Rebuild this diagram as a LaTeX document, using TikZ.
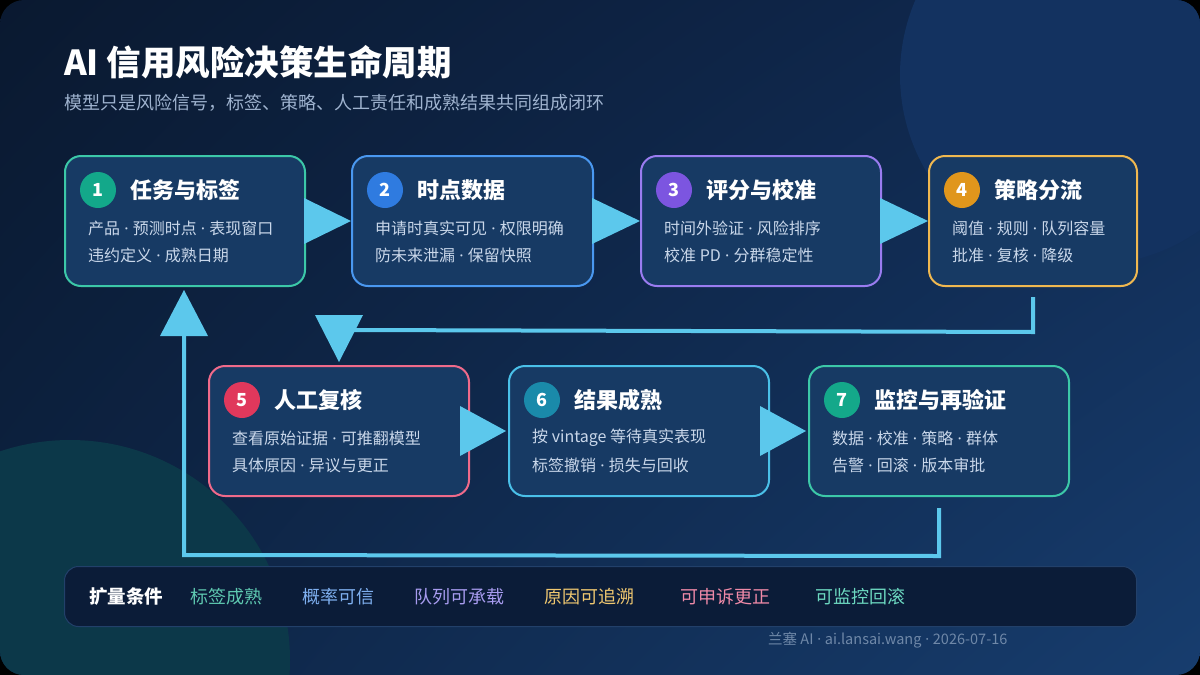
\documentclass[tikz,border=0pt]{standalone}
\usepackage{fontspec}
\setmainfont{Noto Sans CJK SC}
\newfontfamily\dotfont{Noto Sans}
\newcommand\md{{\dotfont\ ·\ }}
\usetikzlibrary{calc,shadings}
\definecolor{bgA}{HTML}{0A1930}
\definecolor{bgB}{HTML}{102A52}
\definecolor{bgC}{HTML}{0D2343}
\definecolor{bgD}{HTML}{173D6E}
\definecolor{circTR}{HTML}{133260}
\definecolor{circBL}{HTML}{0C3849}
\definecolor{boxfill}{HTML}{173A64}
\definecolor{bodytext}{HTML}{C9D7EA}
\definecolor{subtext}{HTML}{9FB3CF}
\definecolor{flow}{HTML}{5CC8EC}
\definecolor{bdA}{HTML}{3CC8A8}
\definecolor{bdB}{HTML}{4A98F0}
\definecolor{bdC}{HTML}{9A7CF0}
\definecolor{bdD}{HTML}{F0B850}
\definecolor{bdE}{HTML}{F06A8A}
\definecolor{bdF}{HTML}{4AC0E8}
\definecolor{bdG}{HTML}{3CC8A8}
\definecolor{bgeA}{HTML}{13A88A}
\definecolor{bgeB}{HTML}{2F7BE0}
\definecolor{bgeC}{HTML}{7C55E0}
\definecolor{bgeD}{HTML}{E0961C}
\definecolor{bgeE}{HTML}{E0385C}
\definecolor{bgeF}{HTML}{1A8AAA}
\definecolor{bgeG}{HTML}{14A88A}
\definecolor{barfill}{HTML}{0B1C38}
\definecolor{barline}{HTML}{22406A}
\definecolor{kA}{HTML}{5EC8B0}
\definecolor{kB}{HTML}{7FB0F0}
\definecolor{kC}{HTML}{A89CF0}
\definecolor{kD}{HTML}{F0C870}
\definecolor{kE}{HTML}{F08AA8}
\definecolor{kF}{HTML}{6CD8C0}
\definecolor{foot}{HTML}{6F88A8}
\tikzset{
  stagebox/.style={rectangle, rounded corners=16pt, line width=2pt, fill=boxfill,
    minimum height=130pt, anchor=north west, inner sep=0pt},
  badge/.style={circle, minimum size=36pt, inner sep=0pt, text=white,
    font=\bfseries\fontsize{18}{18}\selectfont},
  btitle/.style={anchor=west, text=white, inner sep=0pt,
    font=\bfseries\fontsize{22}{24}\selectfont},
  bbody/.style={anchor=west, text=bodytext, inner sep=0pt,
    font=\fontsize{16}{18}\selectfont},
  tri/.style={fill=flow},
  flowline/.style={draw=flow, line width=4pt},
  cond/.style={anchor=west, inner sep=0pt, font=\fontsize{18}{20}\selectfont},
}
\begin{document}
\begin{tikzpicture}[x=1pt,y=-1pt]
\useasboundingbox (0,0) rectangle (1200,675);
\fill[black] (0,0) rectangle (1200,675);
\begin{scope}
  \clip[rounded corners=24pt] (0,0) rectangle (1200,675);
  \shade[upper left=bgA, upper right=bgB, lower left=bgC, lower right=bgD] (0,0) rectangle (1200,675);
  \fill[circTR] (1090,75) circle (190pt);
  \fill[circBL] (70,660) circle (220pt);
\end{scope}

% title
\node[anchor=west, inner sep=0pt, text=white, font=\bfseries\fontsize{34.5}{38}\selectfont] (title) at (64,62) {AI 信用风险决策生命周期};
\node[anchor=west, inner sep=0pt, text=subtext, font=\fontsize{18}{22}\selectfont] (subtitle) at (64,103) {模型只是风险信号，标签、策略、人工责任和成熟结果共同组成闭环};

% row 1 boxes
\node[stagebox, draw=bdA, minimum width=240pt] (b1) at (64,155) {};
\node[stagebox, draw=bdB, minimum width=241pt] (b2) at (351,155) {};
\node[stagebox, draw=bdC, minimum width=240pt] (b3) at (640,155) {};
\node[stagebox, draw=bdD, minimum width=208pt] (b4) at (928,155) {};
% row 2 boxes
\node[stagebox, draw=bdE, minimum width=260pt] (b5) at (208,365) {};
\node[stagebox, draw=bdF, minimum width=260pt] (b6) at (508,365) {};
\node[stagebox, draw=bdG, minimum width=260pt] (b7) at (808,365) {};

% contents
\node[badge, fill=bgeA] (n1) at ($(b1.north west)+(34,35)$) {1};
\node[btitle] (t1) at ($(b1.north west)+(66,35)$) {任务与标签};
\node[bbody] (p1a) at ($(b1.north west)+(24,73)$) {产品\md 预测时点\md 表现窗口};
\node[bbody] (p1b) at ($(b1.north west)+(24,100)$) {违约定义\md 成熟日期};

\node[badge, fill=bgeB] (n2) at ($(b2.north west)+(34,35)$) {2};
\node[btitle] (t2) at ($(b2.north west)+(66,35)$) {时点数据};
\node[bbody] (p2a) at ($(b2.north west)+(24,73)$) {申请时真实可见\md 权限明确};
\node[bbody] (p2b) at ($(b2.north west)+(24,100)$) {防未来泄漏\md 保留快照};

\node[badge, fill=bgeC] (n3) at ($(b3.north west)+(34,35)$) {3};
\node[btitle] (t3) at ($(b3.north west)+(66,35)$) {评分与校准};
\node[bbody] (p3a) at ($(b3.north west)+(24,73)$) {时间外验证\md 风险排序};
\node[bbody] (p3b) at ($(b3.north west)+(24,100)$) {校准 PD\md 分群稳定性};

\node[badge, fill=bgeD] (n4) at ($(b4.north west)+(34,35)$) {4};
\node[btitle] (t4) at ($(b4.north west)+(66,35)$) {策略分流};
\node[bbody] (p4a) at ($(b4.north west)+(24,73)$) {阈值\md 规则\md 队列容量};
\node[bbody] (p4b) at ($(b4.north west)+(24,100)$) {批准\md 复核\md 降级};

\node[badge, fill=bgeE] (n5) at ($(b5.north west)+(34,35)$) {5};
\node[btitle] (t5) at ($(b5.north west)+(66,35)$) {人工复核};
\node[bbody] (p5a) at ($(b5.north west)+(24,73)$) {查看原始证据\md 可推翻模型};
\node[bbody] (p5b) at ($(b5.north west)+(24,100)$) {具体原因\md 异议与更正};

\node[badge, fill=bgeF] (n6) at ($(b6.north west)+(34,35)$) {6};
\node[btitle] (t6) at ($(b6.north west)+(66,35)$) {结果成熟};
\node[bbody] (p6a) at ($(b6.north west)+(24,73)$) {按 vintage 等待真实表现};
\node[bbody] (p6b) at ($(b6.north west)+(24,100)$) {标签撤销\md 损失与回收};

\node[badge, fill=bgeG] (n7) at ($(b7.north west)+(34,35)$) {7};
\node[btitle] (t7) at ($(b7.north west)+(66,35)$) {监控与再验证};
\node[bbody] (p7a) at ($(b7.north west)+(24,73)$) {数据\md 校准\md 策略\md 群体};
\node[bbody] (p7b) at ($(b7.north west)+(24,100)$) {告警\md 回滚\md 版本审批};

% forward arrows row 1
\fill[tri] ($(b1.east)+(-2,-23)$) -- ($(b1.east)+(-2,23)$) -- (b2.west) -- cycle;
\fill[tri] ($(b2.east)+(-2,-23)$) -- ($(b2.east)+(-2,23)$) -- (b3.west) -- cycle;
\fill[tri] ($(b3.east)+(-2,-23)$) -- ($(b3.east)+(-2,23)$) -- (b4.west) -- cycle;
% forward arrows row 2
\fill[tri] ($(b5.east)+(-10,-25)$) -- ($(b5.east)+(-10,25)$) -- ($(b6.west)+(-2,0)$) -- cycle;
\fill[tri] ($(b6.east)+(-10,-25)$) -- ($(b6.east)+(-10,25)$) -- ($(b7.west)+(-2,0)$) -- cycle;

% return from 4 to 5
\coordinate (r1) at ($(b4.south)+(0,10)$);
\coordinate (r2) at ($(b4.south)+(0,45)$);
\coordinate (r3) at ($(b5.north)+(14,-35)$);
\draw[flowline] (r1) -- (r2) -- (r3);
\fill[tri] ($(b5.north)+(-24,-50)$) -- ($(b5.north)+(24,-50)$) -- ($(b5.north)+(0,-3)$) -- cycle;

% return from 7 to 1
\coordinate (s1) at ($(b7.south)+(0,11)$);
\coordinate (s2) at ($(b7.south)+(0,59)$);
\coordinate (s3) at ($(b1.south)+(-1,268)$);
\coordinate (s4) at ($(b1.south)+(-1,46)$);
\draw[flowline] (s1) -- (s2) -- (s3) -- (s4);
\fill[tri] ($(b1.south)+(-25,49)$) -- ($(b1.south)+(23,49)$) -- ($(b1.south)+(-1,3)$) -- cycle;

% bottom bar
\node[rectangle, rounded corners=14pt, fill=barfill, draw=barline, line width=1pt,
  minimum width=1072pt, minimum height=60pt, anchor=north west, inner sep=0pt] (bar) at (64,566) {};
\node[cond, text=white, font=\bfseries\fontsize{18.5}{20}\selectfont] (c0) at (89,597) {扩量条件};
\node[cond, text=kA] (c1) at (190,597) {标签成熟};
\node[cond, text=kB] (c2) at (302,597) {概率可信};
\node[cond, text=kC] (c3) at (414,597) {队列可承载};
\node[cond, text=kD] (c4) at (544,597) {原因可追溯};
\node[cond, text=kE] (c5) at (680,597) {可申诉更正};
\node[cond, text=kF] (c6) at (815,597) {可监控回滚};

\node[anchor=west, inner sep=0pt, text=foot, font=\fontsize{14.5}{16}\selectfont] (footer) at (768,640) {兰塞 AI\md ai.lansai.wang\md 2026-07-16};
\end{tikzpicture}
\end{document}
